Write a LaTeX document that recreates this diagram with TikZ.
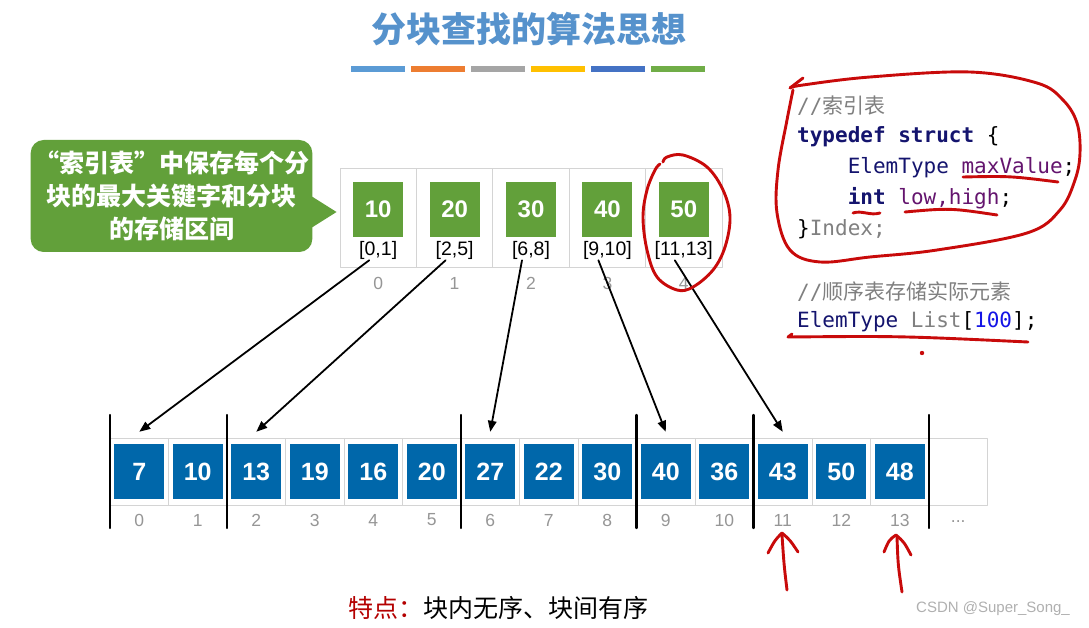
\documentclass[tikz,border=0pt]{standalone}
\usepackage{fontspec}
\setmainfont{Liberation Sans}
\newfontfamily\cjk{Noto Sans CJK SC}
\newfontfamily\codefont{DejaVu Sans Mono}
\usetikzlibrary{arrows.meta}
\definecolor{titleblue}{RGB}{86,146,204}
\definecolor{barblue}{RGB}{91,155,213}
\definecolor{barorange}{RGB}{237,125,49}
\definecolor{bargray}{RGB}{165,165,165}
\definecolor{baryellow}{RGB}{255,192,0}
\definecolor{bardarkblue}{RGB}{68,114,196}
\definecolor{bargreen}{RGB}{112,173,71}
\definecolor{boxgreen}{RGB}{98,160,58}
\definecolor{cellblue}{RGB}{0,103,170}
\definecolor{idxgray}{RGB}{150,150,150}
\definecolor{linegray}{RGB}{212,212,212}
\definecolor{inkred}{RGB}{200,10,10}
\definecolor{notered}{RGB}{180,0,0}
\definecolor{kwnavy}{RGB}{20,20,110}
\definecolor{idpurple}{RGB}{100,20,110}
\definecolor{cmtgray}{RGB}{128,128,128}
\definecolor{numblue}{RGB}{20,20,230}

\begin{document}
\begin{tikzpicture}[x=1pt,y=-1pt,>={Triangle[length=11pt,width=8.5pt]},line cap=round,line join=round,
  tabcell/.style={draw=linegray,line width=0.8pt,minimum width=76.4pt,minimum height=99pt,inner sep=0pt},
  greensq/.style={fill=boxgreen,minimum width=50pt,minimum height=55pt,inner sep=0pt,text=white,font=\bfseries\fontsize{24}{28}\selectfont},
  rangelbl/.style={inner sep=1pt,font=\fontsize{19.5}{22}\selectfont},
  idxlbl/.style={text=idxgray,font=\fontsize{17.5}{20}\selectfont},
  arrcell/.style={draw=linegray,line width=0.8pt,minimum width=58.5pt,minimum height=67pt,inner sep=0pt},
  bluesq/.style={fill=cellblue,minimum width=50pt,minimum height=55pt,inner sep=0pt,text=white,font=\bfseries\fontsize{25}{30}\selectfont},
  blockbar/.style={line width=2.4pt},
  ptr/.style={->,line width=1.8pt},
  codeline/.style={anchor=west,inner sep=0pt,font=\codefont\fontsize{21}{25}\selectfont},
  redink/.style={draw=inkred,line width=2.9pt}]
\useasboundingbox[fill=white] (0,0) rectangle (1089,628);
% title and colour bars
\node[text=titleblue,font=\cjk\bfseries\fontsize{35}{40}\selectfont] (title) at (529,29) {分块查找的算法思想};
\foreach \c [count=\i from 0] in {barblue,barorange,bargray,baryellow,bardarkblue,bargreen}
  \fill[\c] (351+\i*60,66) rectangle ++(54,6);
% callout
\node[fill=boxgreen,rounded corners=13pt,minimum width=273pt,minimum height=112pt,align=center,text=white,font=\cjk\bfseries\fontsize{25}{33}\selectfont] (note) at (171.5,196) {“索引表”中保存每个分\\块的最大关键字和分块\\的存储区间};
\fill[boxgreen] ([xshift=-3pt,yshift=1pt]note.east) -- ([xshift=24pt,yshift=-16pt]note.east) -- ([xshift=-3pt,yshift=-33pt]note.east) -- cycle;
% index table
\foreach \v/\lo/\hi [count=\i from 0] in {10/0/1,20/2/5,30/6/8,40/9/10,50/11/13} {
  \node[tabcell] (t\i) at (378.2+\i*76.4,217.5) {};
  \node[greensq] (k\i) at (378.2+\i*76.4,209.5) {\v};
  \node[rangelbl] (r\i) at (378.2+\i*76.4,250) {[\lo,\hi]};
  \node[idxlbl] (ti\i) at (378.2+\i*76.4,283) {\i};
}
% list
\foreach \v [count=\i from 0] in {7,10,13,19,16,20,27,22,30,40,36,43,50,48} {
  \node[arrcell] (a\i) at (139.25+\i*58.5,471.5) {};
  \node[bluesq] (c\i) at (139.25+\i*58.5,471.5) {\v};
  \node[idxlbl] (ai\i) at (139.25+\i*58.5,520) {\i};
}
\node[arrcell] (a14) at (139.25+14*58.5,471.5) {};
\node[idxlbl] (ai14) at (139.25+14*58.5,522) {...};
\foreach \k in {0,2,6,9,11,14}
  \draw[blockbar] (110+\k*58.5,415) -- (110+\k*58.5,528);
% index entry -> first element of block
\foreach \f/\t in {0/0,1/2,2/6,3/9,4/11}
  \draw[ptr] ([xshift=-9pt]r\f.south) -- ([yshift=12pt]c\t.north);
% code
\node[codeline,text=cmtgray] (cm1) at (797,106) {//{\cjk 索引表}};
\node[codeline] (cd1) at (797,137) {\textcolor{kwnavy}{\bfseries typedef struct} \{};
\node[codeline] (cd2) at (847.6,168) {\textcolor{kwnavy}{ElemType} \textcolor{idpurple}{maxValue};};
\node[codeline] (cd3) at (847.6,198) {\textcolor{kwnavy}{\bfseries int} \textcolor{idpurple}{low,high};};
\node[codeline] (cd4) at (797,229) {\}\textcolor{cmtgray}{Index;}};
\node[codeline,text=cmtgray] (cm2) at (797,292) {//{\cjk 顺序表存储实际元素}};
\node[codeline] (cd5) at (797,322) {\textcolor{kwnavy}{ElemType} \textcolor{cmtgray}{List}[\textcolor{numblue}{100}];};
% bottom line
\node[font=\cjk\fontsize{25}{30}\selectfont] (feature) at (498,608) {\textcolor{notered}{特点：}块内无序、块间有序};
\node[text=idxgray!75,font=\fontsize{15}{18}\selectfont] (mark) at (993,609) {CSDN @Super\_Song\_};
% red pen marks
\draw[redink] (803,78) -- (790,88);
\draw[redink] plot[smooth,tension=0.6] coordinates {(790,88) (803,85) (870,77) (970,72) (1037,83) (1063,100) (1077,123) (1080,153) (1075,180) (1060,210) (1027,233) (937,250) (870,257) (820,262) (790,250) (777,213) (778,170) (787,120) (793,90)};
\draw[redink] plot[smooth,tension=0.6] coordinates {(663,162) (667,157) (683,155) (707,167) (723,190) (730,217) (725,247) (713,270) (693,287) (677,290) (657,277) (647,250) (643,217) (647,190) (655,170) (660,164)};
\draw[redink] (963,177) .. controls (1010,176) .. (1058,182);
\draw[redink] (853,213) .. controls (862,210) and (870,216) .. (880,213);
\draw[redink] (905,212) .. controls (950,208) .. (997,215);
\draw[redink] (792,334) -- (788,337) .. controls (900,336) .. (1028,342);
\fill[inkred] (922,353) circle (2.2pt);
\draw[redink] (787,590) .. controls (784,565) .. (782,535);
\draw[redink] (768,553) .. controls (775,540) .. (782,533) .. controls (790,540) .. (798,552);
\draw[redink] (902,592) .. controls (898,565) .. (897,537);
\draw[redink] (884,552) .. controls (889,540) .. (896,535) .. controls (904,542) .. (911,555);
\end{tikzpicture}
\end{document}
